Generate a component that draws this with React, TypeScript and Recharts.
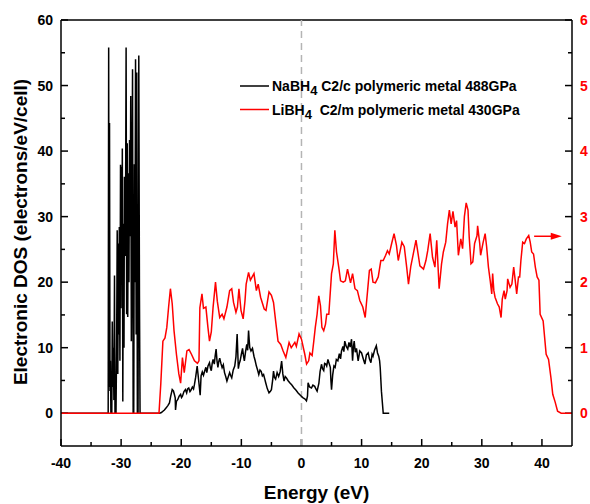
import { LineChart, Line, XAxis, YAxis, ReferenceLine } from "recharts";

// NaBH4 C2/c 488GPa, left axis (electrons/eV/cell): [energy, dos]
const naSpikes: [number, number][] = [
  [-40, 0], [-32.15, 0], [-32.07, 55.8], [-32.0, 4], [-31.93, 44.3], [-31.85, 3.4],
  [-31.78, 8], [-31.7, 0], [-31.55, 0], [-31.47, 14], [-31.38, 4], [-31.3, 10],
  [-31.2, 2], [-31.1, 21], [-31.02, 0], [-30.85, 0], [-30.75, 10], [-30.65, 27.9],
  [-30.55, 6], [-30.45, 25.9], [-30.38, 12], [-30.3, 28.4], [-30.2, 8], [-30.1, 37.9],
  [-30.02, 16], [-29.95, 37.6], [-29.87, 20], [-29.8, 40.4], [-29.72, 1.8], [-29.62, 28.9],
  [-29.52, 10], [-29.45, 36.1], [-29.35, 24], [-29.25, 34.2], [-29.17, 55.8], [-29.08, 15.1],
  [-28.98, 41.2], [-28.9, 14.7], [-28.8, 36.6], [-28.7, 20], [-28.6, 41.7], [-28.5, 27],
  [-28.4, 48.4], [-28.3, 11], [-28.2, 30], [-28.1, 52.5], [-28.0, 0], [-27.9, 0],
  [-27.8, 38], [-27.7, 20], [-27.6, 54], [-27.5, 12], [-27.4, 52], [-27.3, 0],
  [-27.18, 0], [-27.06, 54.6], [-26.95, 18], [-26.85, 0],
];
const naBand: [number, number][] = [
  [-23.6, 0], [-23.3, 0.1], [-23.05, 0.3], [-22.8, 0.5], [-22.5, 0.82], [-22.2, 1.2],
  [-21.96, 1.58], [-21.75, 2.6], [-21.5, 3.6], [-21.3, 3.4], [-21.15, 2.9], [-21.0, 2.35],
  [-20.95, 0.5], [-20.8, 1.8], [-20.57, 2.1], [-20.35, 2.6], [-20.1, 2.87], [-19.95, 2.4],
  [-19.8, 2.6], [-19.55, 3.3], [-19.3, 3.6], [-19.1, 3.1], [-18.95, 3.7], [-18.75, 3.85],
  [-18.55, 3.3], [-18.4, 3.5], [-18.15, 4.0], [-17.95, 3.7], [-17.8, 4.4], [-17.6, 5.5],
  [-17.35, 7.2], [-17.1, 5.0], [-16.85, 2.75], [-16.7, 5.7], [-16.5, 6.3], [-16.3, 5.8],
  [-16.1, 6.44], [-15.9, 7.0], [-15.75, 6.2], [-15.55, 7.2], [-15.3, 7.7], [-15.15, 6.9],
  [-15.0, 6.5], [-14.85, 7.6], [-14.7, 8.2], [-14.5, 7.5], [-14.35, 8.8], [-14.2, 9.8],
  [-14.05, 8.0], [-13.9, 7.0], [-13.75, 7.9], [-13.6, 8.4], [-13.4, 7.6], [-13.2, 6.95],
  [-13.0, 7.4], [-12.8, 6.2], [-12.6, 5.6], [-12.4, 4.9], [-12.2, 5.5], [-11.95, 6.2],
  [-11.8, 5.8], [-11.6, 5.4], [-11.35, 6.6], [-11.1, 7.2], [-10.9, 8.6], [-10.7, 12.07],
  [-10.5, 6.8], [-10.35, 7.6], [-10.2, 8.0], [-10.0, 9.0], [-9.8, 9.9], [-9.65, 8.8],
  [-9.5, 8.0], [-9.3, 9.4], [-9.1, 10.5], [-8.95, 9.6], [-8.8, 12.6], [-8.7, 11.2],
  [-8.6, 10.0], [-8.4, 9.5], [-8.15, 9.9], [-7.9, 8.7], [-7.7, 8.0], [-7.5, 7.2],
  [-7.3, 6.6], [-7.1, 5.9], [-6.9, 6.6], [-6.7, 6.4], [-6.5, 5.7], [-6.3, 5.9],
  [-6.1, 5.2], [-5.95, 4.65], [-5.7, 3.8], [-5.4, 3.1], [-5.2, 3.3], [-5.0, 3.6],
  [-4.8, 5.0], [-4.65, 6.44], [-4.5, 5.5], [-4.3, 5.2], [-4.05, 6.2], [-3.8, 5.6],
  [-3.55, 6.3], [-3.3, 7.97], [-3.1, 6.0], [-2.9, 4.9], [-2.7, 5.6], [-2.5, 5.4],
  [-2.25, 5.0], [-1.95, 4.65], [-1.6, 4.3], [-1.28, 3.9], [-0.9, 3.5], [-0.56, 3.1],
  [-0.15, 2.7], [0.27, 2.35], [0.55, 2.2], [0.83, 1.9], [1.0, 2.6], [1.1, 4.65],
  [1.35, 4.0], [1.66, 3.85], [1.9, 4.3], [2.2, 4.1], [2.4, 3.7], [2.6, 3.37],
  [2.9, 4.6], [3.1, 6.4], [3.33, 7.47], [3.5, 6.8], [3.7, 6.5], [3.85, 7.6],
  [4.05, 7.5], [4.2, 7.2], [4.4, 8.2], [4.6, 7.6], [4.8, 7.0], [4.9, 5.0],
  [5.0, 3.6], [5.2, 5.9], [5.4, 7.2], [5.6, 7.0], [5.8, 8.2], [6.05, 8.0],
  [6.3, 9.1], [6.5, 8.3], [6.66, 9.5], [6.9, 10.2], [7.05, 9.4], [7.2, 11.0],
  [7.45, 10.2], [7.7, 9.8], [7.9, 10.8], [8.1, 10.1], [8.33, 11.3], [8.5, 8.0],
  [8.65, 10.2], [8.77, 11.0], [8.95, 9.3], [9.15, 9.9], [9.43, 8.0], [9.7, 9.5],
  [10.0, 9.2], [10.25, 8.4], [10.55, 7.5], [10.8, 8.9], [11.1, 9.2], [11.3, 8.3],
  [11.55, 7.7], [11.75, 9.0], [11.9, 8.7], [12.15, 9.6], [12.45, 10.3], [12.65, 9.2],
  [12.85, 8.7], [13.0, 8.0], [13.1, 6.95], [13.3, 3.37], [13.6, 0], [14.6, 0],
];

// LiBH4 C2/m 430GPa, right axis
const liEnergy = [
  -40, -23.7, -23.4, -23.05, -22.7, -22.4, -22.1, -21.8, -21.5, -21.2,
  -20.8, -20.4, -20.1, -19.8, -19.5, -19.06, -18.7, -18.3, -17.8, -17.3,
  -17.05, -16.9, -16.55, -16.3, -15.9, -15.56, -15.3, -15.0, -14.7, -14.3,
  -14.0, -13.6, -13.2, -12.9, -12.4, -11.95, -11.6, -11.3, -10.9, -10.65,
  -10.4, -10.06, -9.7, -9.4, -9.2, -8.8, -8.5, -8.2, -7.9, -7.5,
  -7.2, -6.8, -6.2, -5.9, -5.4, -5.0, -4.65, -4.3, -3.9, -3.45,
  -3.05, -2.6, -2.06, -1.7, -1.1, -0.85, -0.4, 0.0, 0.55, 0.85,
  1.2, 1.4, 1.77, 2.05, 2.3, 2.6, 2.88, 3.16, 3.4, 3.7,
  4.0, 4.2, 4.55, 5.0, 5.3, 5.55, 5.83, 6.2, 6.5, 6.95,
  7.3, 7.66, 8.16, 8.5, 8.9, 9.3, 9.7, 10.2, 10.6, 10.8,
  11.0, 11.3, 11.6, 11.9, 12.3, 12.77, 13.2, 13.6, 14.0, 14.3,
  14.6, 15.0, 15.4, 15.8, 16.1, 16.7, 17.1, 17.5, 17.8, 18.2,
  18.6, 19.05, 19.4, 19.7, 20.3, 20.7, 21.0, 21.4, 21.8, 22.2,
  22.5, 22.9, 23.3, 23.6, 24.0, 24.3, 24.6, 24.9, 25.2, 25.55,
  25.8, 26.1, 26.5, 26.8, 27.1, 27.4, 27.7, 27.9, 28.2, 28.5,
  28.8, 29.2, 29.3, 29.65, 29.8, 30.2, 30.55, 30.8, 31.1, 31.4,
  31.65, 31.8, 32.0, 32.2, 32.6, 32.9, 33.2, 33.4, 33.7, 33.9,
  34.2, 34.3, 34.7, 35.0, 35.3, 35.55, 35.8, 36.1, 36.3, 36.5,
  36.8, 37.1, 37.4, 37.8, 38.05, 38.3, 38.6, 38.9, 39.2, 39.5,
  39.7, 40.2, 40.7, 41.1, 41.5, 41.8, 42.2, 42.6, 43.2, 45,
];
const liDos = [
  0, 0, 0.45, 1.1, 1.15, 1.31, 1.62, 1.9, 1.67, 1.26,
  0.9, 0.6, 0.46, 0.85, 0.62, 0.95, 0.97, 0.9, 0.8, 0.76,
  0.8, 1.61, 1.82, 1.6, 1.62, 1.31, 1.1, 1.24, 1.62, 2.0,
  1.71, 1.46, 1.51, 1.44, 1.62, 1.87, 1.9, 1.69, 1.54, 1.62,
  1.9, 1.57, 1.44, 1.71, 1.97, 2.15, 2.03, 2.08, 2.13, 1.87,
  1.97, 1.77, 1.59, 1.57, 1.85, 1.8, 1.69, 1.41, 1.1, 1.05,
  0.95, 0.85, 1.08, 1.0, 1.08, 1.02, 1.21, 1.13, 0.9, 0.75,
  0.8, 0.92, 0.88, 1.1, 1.31, 1.51, 1.79, 1.64, 1.31, 1.26,
  1.36, 1.51, 1.51, 2.13, 2.28, 2.79, 2.46, 2.23, 2.02, 2.0,
  2.02, 2.2, 1.99, 2.13, 1.9, 1.87, 1.72, 1.62, 1.46, 1.67,
  1.87, 2.18, 2.2, 2.0, 1.99, 2.08, 2.33, 2.33, 2.41, 2.48,
  2.43, 2.59, 2.74, 2.56, 2.33, 2.61, 2.54, 2.23, 1.97, 2.25,
  2.43, 2.64, 2.43, 2.25, 2.2, 2.33, 2.48, 2.74, 2.38, 2.23,
  2.64, 1.9, 2.28, 2.46, 2.61, 2.89, 3.1, 2.89, 3.08, 2.84,
  2.94, 2.41, 2.66, 2.51, 3.0, 3.21, 3.1, 2.69, 2.28, 2.31,
  2.59, 2.71, 2.86, 2.59, 2.41, 2.6, 2.74, 2.54, 2.23, 2.02,
  1.82, 2.13, 1.87, 1.77, 1.67, 1.62, 1.46, 1.74, 1.87, 1.74,
  1.87, 2.05, 1.92, 1.97, 2.23, 2.03, 1.82, 2.08, 2.08, 2.33,
  2.61, 2.59, 2.66, 2.71, 2.61, 2.46, 2.43, 2.23, 2.08, 2.03,
  1.51, 1.41, 0.9, 0.82, 0.54, 0.29, 0.17, 0.03, 0, 0,
];

const xTicks = [-40, -35, -30, -25, -20, -15, -10, -5, 0, 5, 10, 15, 20, 25, 30, 35, 40];
const leftTicks = [0, 5, 10, 15, 20, 25, 30, 35, 40, 45, 50, 55, 60];
const rightTicks = [0, 0.5, 1, 1.5, 2, 2.5, 3, 3.5, 4, 4.5, 5, 5.5, 6];

const naData = [...naSpikes, ...naBand].map(([e, v]) => ({ e, v }));
const liData = liEnergy.map((e, i) => ({ e, v: liDos[i] }));

const X_DOMAIN: [number, number] = [-40, 45];
const L_DOMAIN: [number, number] = [-5, 60];
const R_DOMAIN: [number, number] = [-0.5, 6];
const PLOT_W = 511;
const PLOT_H = 426;

// tick lengths in pixels, turned into data units so ticks go inward
const xLen = (px: number) => (px * (X_DOMAIN[1] - X_DOMAIN[0])) / PLOT_W;
const lLen = (px: number) => (px * (L_DOMAIN[1] - L_DOMAIN[0])) / PLOT_H;
const rLen = (px: number) => (px * (R_DOMAIN[1] - R_DOMAIN[0])) / PLOT_H;

const FONT = "Arial, 'Liberation Sans', sans-serif";

function LeftTick({ x, y, payload }: any) {
  if (payload.value % 10 !== 0) return <g />;
  return (
    <text x={x} y={y} dy="0.355em" textAnchor="end" fontFamily={FONT} fontSize={14} fontWeight="bold" fill="#000">
      {payload.value}
    </text>
  );
}

function RightTick({ x, y, payload }: any) {
  if (!Number.isInteger(payload.value)) return <g />;
  return (
    <text x={x} y={y} dy="0.355em" textAnchor="start" fontFamily={FONT} fontSize={14} fontWeight="bold" fill="#ff0000">
      {payload.value}
    </text>
  );
}

function BottomTick({ x, y, payload }: any) {
  if (payload.value % 10 !== 0) return <g />;
  return (
    <text x={x} y={y + 10} textAnchor="middle" fontFamily={FONT} fontSize={14} fontWeight="bold" fill="#000">
      {payload.value}
    </text>
  );
}

function Arrow(props: any) {
  const { x1, y1, x2, y2 } = props;
  return (
    <g>
      <line x1={x1} y1={y1} x2={x2 - 8} y2={y2} stroke="#ff0000" strokeWidth={1.5} />
      <path d={`M${x2},${y2} L${x2 - 11},${y2 - 3.5} L${x2 - 11},${y2 + 3.5} Z`} fill="#ff0000" />
    </g>
  );
}

export default function App() {
  return (
    <div style={{ position: "absolute", left: 0, top: 0, width: 590, height: 504, background: "#fff" }}>
      <LineChart width={590} height={504} margin={{ top: 20, right: 0, bottom: 0, left: 0 }}>
        <XAxis
          type="number"
          dataKey="e"
          domain={X_DOMAIN}
          allowDataOverflow
          ticks={xTicks}
          height={58}
          tickSize={0}
          tickMargin={12}
          tickLine={false}
          stroke="#000"
          strokeWidth={1.5}
          tick={<BottomTick />}
        />
        <YAxis
          yAxisId="left"
          domain={L_DOMAIN}
          allowDataOverflow
          ticks={leftTicks}
          width={61}
          tickSize={0}
          tickMargin={8}
          tickLine={false}
          stroke="#000"
          strokeWidth={1.5}
          tick={<LeftTick />}
        />
        <YAxis
          yAxisId="right"
          orientation="right"
          domain={R_DOMAIN}
          allowDataOverflow
          ticks={rightTicks}
          width={18}
          tickSize={0}
          tickMargin={8}
          tickLine={false}
          stroke="#000"
          strokeWidth={1.5}
          tick={<RightTick />}
        />
        <ReferenceLine yAxisId="left" y={60} stroke="#000" strokeWidth={1.5} />
        {xTicks.map((v) => (
          <ReferenceLine
            key={`xt${v}`}
            yAxisId="left"
            segment={[{ x: v, y: L_DOMAIN[0] }, { x: v, y: L_DOMAIN[0] + lLen(v % 10 === 0 ? 7 : 4) }]}
            stroke="#000"
            strokeWidth={1.5}
          />
        ))}
        {leftTicks.map((v) => (
          <ReferenceLine
            key={`lt${v}`}
            yAxisId="left"
            segment={[{ x: X_DOMAIN[0], y: v }, { x: X_DOMAIN[0] + xLen(v % 10 === 0 ? 7 : 4), y: v }]}
            stroke="#000"
            strokeWidth={1.5}
          />
        ))}
        {rightTicks.map((v) => (
          <ReferenceLine
            key={`rt${v}`}
            yAxisId="right"
            segment={[{ x: X_DOMAIN[1] - xLen(Number.isInteger(v) ? 7 : 4), y: v }, { x: X_DOMAIN[1], y: v }]}
            stroke="#000"
            strokeWidth={1.5}
          />
        ))}
        <ReferenceLine yAxisId="left" x={0} stroke="#b4b4b4" strokeWidth={1.5} strokeDasharray="7 5" />
        <Line
          yAxisId="left"
          data={naData}
          dataKey="v"
          type="linear"
          stroke="#000"
          strokeWidth={1.5}
          dot={false}
          isAnimationActive={false}
        />
        <Line
          yAxisId="right"
          data={liData}
          dataKey="v"
          type="linear"
          stroke="#ff0000"
          strokeWidth={1.5}
          dot={false}
          isAnimationActive={false}
        />
        <ReferenceLine
          yAxisId="right"
          segment={[{ x: 38.7, y: 2.7 }, { x: 43.3, y: 2.7 }]}
          shape={<Arrow />}
        />
      </LineChart>
      <svg
        width={590}
        height={504}
        style={{ position: "absolute", left: 0, top: 0, pointerEvents: "none" }}
        fontFamily={FONT}
        fontWeight="bold"
      >
        <text x={27} y={232} transform="rotate(-90 27 232)" textAnchor="middle" fontSize={19} fill="#000">
          Electronic DOS (electrons/eV/cell)
        </text>
        <text x={316.5} y={499} textAnchor="middle" fontSize={19} fill="#000">
          Energy (eV)
        </text>
        <line x1={240} y1={86} x2={269} y2={86} stroke="#000" strokeWidth={1.5} />
        <text x={272} y={91} fontSize={14} fill="#000" style={{ whiteSpace: "pre" }}>
          NaBH<tspan dy={4} fontSize={13}>4</tspan>
          <tspan dy={-4}> C2/c polymeric metal 488GPa</tspan>
        </text>
        <line x1={240} y1={109.5} x2={269} y2={109.5} stroke="#ff0000" strokeWidth={1.5} />
        <text x={272} y={114.5} fontSize={14} fill="#000" style={{ whiteSpace: "pre" }}>
          LiBH<tspan dy={4} fontSize={13}>4</tspan>
          <tspan dy={-4}>{"  C2/m polymeric metal 430GPa"}</tspan>
        </text>
      </svg>
    </div>
  );
}
